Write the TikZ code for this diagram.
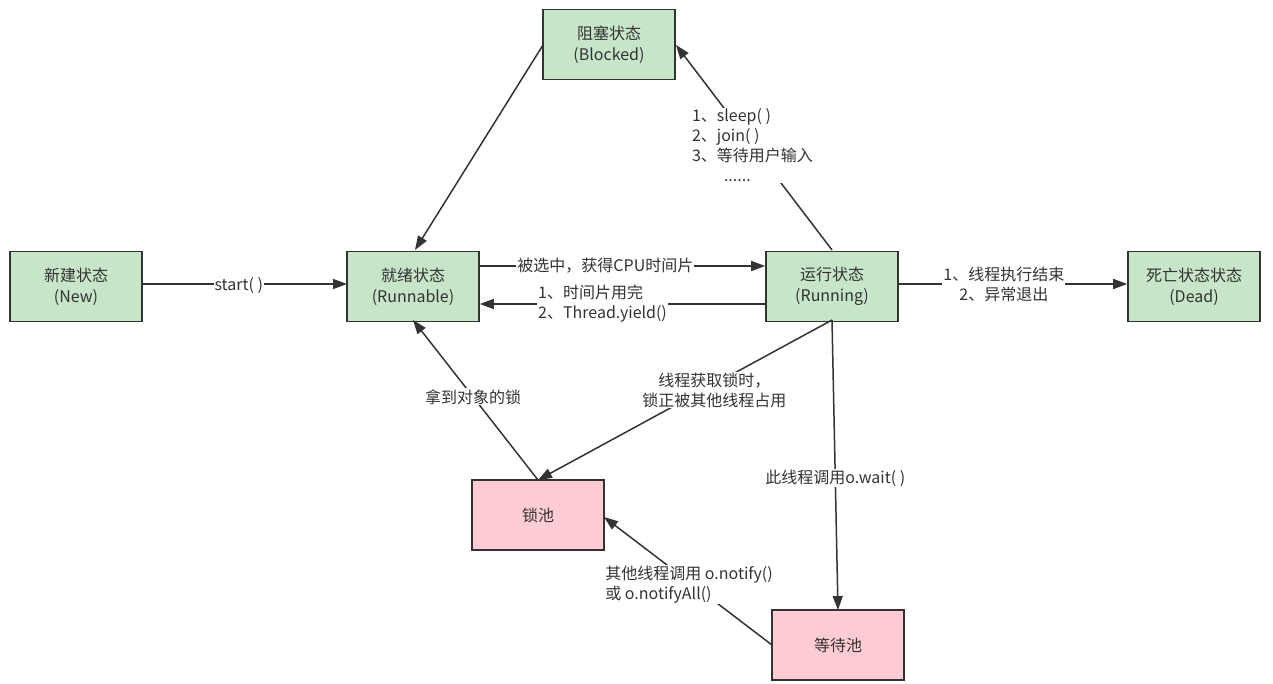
\documentclass[tikz,border=0pt]{standalone}
\usepackage{fontspec}
\setmainfont{Noto Sans CJK SC}
\usetikzlibrary{arrows.meta}
\definecolor{gfill}{HTML}{C7E6C9}
\definecolor{pfill}{HTML}{FFCCD3}
\definecolor{edge}{HTML}{333333}
\definecolor{txt}{HTML}{333333}
\tikzset{
  box/.style={draw=edge, line width=1.6pt, minimum width=132pt, minimum height=70pt, inner sep=0pt, align=center, text=txt, font=\fontsize{16}{21}\selectfont},
  gbox/.style={box, fill=gfill},
  pbox/.style={box, fill=pfill},
  conn/.style={draw=edge, line width=1.5pt, -{Triangle[length=14pt,width=10pt]}},
  lbl/.style={fill=white, text=txt, inner sep=1pt, font=\fontsize{16}{20}\selectfont},
}
\begin{document}
\begin{tikzpicture}[x=1pt,y=-1pt]
\useasboundingbox (0,0) rectangle (1273,684);
\node[gbox, yshift=-1.5pt] (new) at (76,285) {新建状态\\(New)};
\node[gbox, yshift=-1.5pt] (run) at (413,285) {就绪状态\\(Runnable)};
\node[gbox, yshift=-1.5pt] (ing) at (832,285) {运行状态\\(Running)};
\node[gbox, yshift=-1.5pt] (dead) at (1194,285) {死亡状态状态\\(Dead)};
\node[gbox, yshift=-1.5pt] (blk) at (609,43) {阻塞状态\\(Blocked)};
\node[pbox] (lock) at (538,515) {锁池};
\node[pbox] (wait) at (838,645) {等待池};

\coordinate (newE) at (142,284);
\coordinate (runW) at (347,284);
\draw[conn] (new.east |- newE) -- node[lbl, pos=0.47, yshift=-2pt] {start( )} (runW);

\draw[conn] (run.east |- 0,266) -- node[lbl, pos=0.44] {被选中，获得CPU时间片} (ing.west |- 0,266);
\draw[conn] (ing.west |- 0,304) -- node[lbl, pos=0.57, align=left] {1、时间片用完\\2、Thread.yield()} (run.east |- 0,304);
\draw[conn] (ing.east |- 0,284) -- node[lbl, pos=0.46, align=center] {1、线程执行结束\\2、异常退出} (dead.west |- 0,284);

\coordinate (blkW) at (543,45);
\coordinate (runN) at (415,250);
\draw[conn] (blkW) -- (runN);

\coordinate (ingN) at (832,250);
\coordinate (blkE) at (676,45);
\draw[conn] (ingN) -- node[lbl, pos=0.51, align=left] {1、sleep( )\\2、join( )\\3、等待用户输入\\\hspace*{32pt}......} (blkE);

\coordinate (ingS) at (832,320);
\coordinate (lockN) at (538,480);
\draw[conn] (ingS) -- node[lbl, pos=0.40, yshift=-6pt, align=center] {线程获取锁时，\\锁正被其他线程占用} (lockN);

\coordinate (runS) at (413,320);
\draw[conn] (lockN) -- node[lbl, pos=0.52] {拿到对象的锁} (runS);

\coordinate (waitN) at (838,610);
\draw[conn] (ingS) -- node[lbl, pos=0.545] {此线程调用o.wait( )} (waitN);

\coordinate (waitW) at (772,645);
\coordinate (lockE) at (604,517);
\draw[conn] (waitW) -- node[lbl, pos=0.47, xshift=-4pt, align=left] {其他线程调用 o.notify()\\或 o.notifyAll()} (lockE);
\end{tikzpicture}
\end{document}
